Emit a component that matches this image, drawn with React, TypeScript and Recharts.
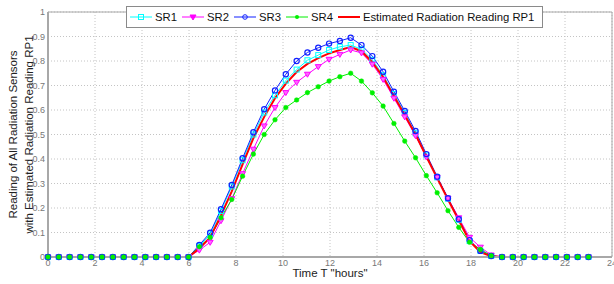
import React from "react";
import { LineChart, Line, XAxis, YAxis, CartesianGrid, ReferenceLine, Label } from "recharts";

const hours = [0, 0.46, 0.92, 1.38, 1.84, 2.3, 2.76, 3.22, 3.68, 4.14, 4.6, 5.06, 5.52, 5.98, 6.44, 6.9, 7.36, 7.82, 8.28, 8.74, 9.2, 9.66, 10.12, 10.58, 11.04, 11.5, 11.96, 12.42, 12.88, 13.34, 13.8, 14.26, 14.72, 15.18, 15.64, 16.1, 16.56, 17.02, 17.48, 17.94, 18.4, 18.86, 19.32, 19.78, 20.24, 20.7, 21.16, 21.62, 22.08, 22.54, 23];

const sr1 = [0, 0, 0, 0, 0, 0, 0, 0, 0, 0, 0, 0, 0, 0,
  0.045, 0.092, 0.188, 0.288, 0.395, 0.5, 0.59, 0.66, 0.72, 0.765, 0.803, 0.824, 0.845, 0.858, 0.865, 0.848, 0.805, 0.742, 0.665, 0.588, 0.505, 0.415, 0.325, 0.238, 0.152, 0.065, 0.025, 0.004,
  0, 0, 0, 0, 0, 0, 0, 0, 0];
const sr2 = [0, 0, 0, 0, 0, 0, 0, 0, 0, 0, 0, 0, 0, 0,
  0.028, 0.06, 0.148, 0.238, 0.34, 0.44, 0.535, 0.61, 0.671, 0.713, 0.746, 0.777, 0.807, 0.827, 0.845, 0.833, 0.787, 0.725, 0.648, 0.572, 0.495, 0.408, 0.325, 0.24, 0.16, 0.08, 0.04, 0.008,
  0, 0, 0, 0, 0, 0, 0, 0, 0];
const sr3 = [0, 0, 0, 0, 0, 0, 0, 0, 0, 0, 0, 0, 0, 0,
  0.049, 0.099, 0.195, 0.294, 0.403, 0.509, 0.603, 0.68, 0.746, 0.8, 0.835, 0.854, 0.871, 0.882, 0.895, 0.865, 0.82, 0.756, 0.675, 0.596, 0.514, 0.42, 0.328, 0.24, 0.154, 0.069, 0.025, 0.004,
  0, 0, 0, 0, 0, 0, 0, 0, 0];
const sr4 = [0, 0, 0, 0, 0, 0, 0, 0, 0, 0, 0, 0, 0, 0,
  0.042, 0.08, 0.16, 0.235, 0.33, 0.42, 0.5, 0.56, 0.61, 0.641, 0.671, 0.695, 0.718, 0.736, 0.75, 0.718, 0.67, 0.616, 0.545, 0.473, 0.405, 0.332, 0.262, 0.189, 0.121, 0.06, 0.031, 0.005,
  0, 0, 0, 0, 0, 0, 0, 0, 0];
const rp1 = [0, 0, 0, 0, 0, 0, 0, 0, 0, 0, 0, 0, 0, 0,
  0.035, 0.08, 0.17, 0.268, 0.378, 0.485, 0.572, 0.648, 0.708, 0.755, 0.788, 0.812, 0.831, 0.845, 0.857, 0.84, 0.795, 0.735, 0.657, 0.58, 0.5, 0.41, 0.322, 0.235, 0.15, 0.065, 0.02, 0.003,
  0, 0, 0, 0, 0, 0, 0, 0, 0];

const xTicks = [0, 2, 4, 6, 8, 10, 12, 14, 16, 18, 20, 22, 24];
const yTicks = [0, 0.1, 0.2, 0.3, 0.4, 0.5, 0.6, 0.7, 0.8, 0.9, 1];

const data = hours.map((h, i) => ({ h, sr1: sr1[i], sr2: sr2[i], sr3: sr3[i], sr4: sr4[i], rp1: rp1[i] }));

const C1 = "#00ffff";
const C2 = "#ff00ff";
const C3 = "#1020ff";
const C4 = "#00f000";
const C5 = "#ff0000";
const FONT = "'Liberation Sans', Arial, sans-serif";

const squareDot = (p: any) => (
  <rect key={"s1" + p.index} x={p.cx - 2.5} y={p.cy - 2.5} width={5} height={5} fill="none" stroke={C1} strokeWidth={1} />
);
const triDot = (p: any) => (
  <path key={"s2" + p.index} d={`M${p.cx - 3},${p.cy - 2} L${p.cx + 3},${p.cy - 2} L${p.cx},${p.cy + 3} Z`} fill="#ff66ff" stroke={C2} strokeWidth={1} />
);
const circDot = (p: any) => (
  <circle key={"s3" + p.index} cx={p.cx} cy={p.cy} r={2.6} fill="none" stroke={C3} strokeWidth={1.2} />
);
const greenDot = (p: any) => (
  <circle key={"s4" + p.index} cx={p.cx} cy={p.cy} r={2.3} fill={C4} stroke={C4} strokeWidth={0.5} />
);

const legendItems = [
  { name: "SR1", color: C1, marker: "square" },
  { name: "SR2", color: C2, marker: "tri" },
  { name: "SR3", color: C3, marker: "circle" },
  { name: "SR4", color: C4, marker: "dot" },
  { name: "Estimated Radiation Reading RP1", color: C5, marker: "none" },
];

const Sample = ({ color, marker }: { color: string; marker: string }) => (
  <svg width={22} height={10} style={{ display: "block" }}>
    <line x1={0} y1={5} x2={22} y2={5} stroke={color} strokeWidth={marker === "none" ? 2 : 1} />
    {marker === "square" && <rect x={8.5} y={2.5} width={5} height={5} fill="none" stroke={color} />}
    {marker === "tri" && <path d="M8,3 L14,3 L11,8 Z" fill={color} stroke={color} />}
    {marker === "circle" && <circle cx={11} cy={5} r={2.3} fill="none" stroke={color} />}
    {marker === "dot" && <circle cx={11} cy={5} r={2} fill={color} />}
  </svg>
);

const LegendBox = () => (
  <div
    style={{
      position: "absolute",
      left: 126,
      top: 6,
      display: "flex",
      alignItems: "center",
      height: 20,
      border: "1px solid #8a8a8a",
      background: "#fff",
      paddingLeft: 3,
      paddingRight: 8,
      fontFamily: FONT,
      fontSize: 11.3,
      color: "#111",
    }}
  >
    {legendItems.map((it, k) => (
      <div key={it.name} style={{ display: "flex", alignItems: "center", marginRight: k === legendItems.length - 1 ? 0 : 5 }}>
        <Sample color={it.color} marker={it.marker} />
        <span style={{ marginLeft: 3, whiteSpace: "nowrap" }}>{it.name}</span>
      </div>
    ))}
  </div>
);

const YLabel = () => (
  <g fontFamily={FONT} fontSize={11.5} fill="#222">
    <text x={17} y={134.5} textAnchor="middle" transform="rotate(-90, 17, 134.5)">
      Reading of All Radiation Sensors
    </text>
    <text x={33} y={134.5} textAnchor="middle" transform="rotate(-90, 33, 134.5)">
      with Estimated Radiation Reading RP1
    </text>
  </g>
);

const XLabel = () => (
  <text x={330} y={277} textAnchor="middle" fontFamily={FONT} fontSize={11.5} fill="#222">
    Time T "hours"
  </text>
);

export default function App() {
  return (
    <div style={{ position: "absolute", left: 0, top: 0, width: 614, height: 284, background: "#fff", overflow: "hidden" }}>
      <LineChart width={614} height={284} data={data} margin={{ top: 12, right: 2, bottom: 0, left: 0 }}>
        <CartesianGrid stroke="#c4c4c4" strokeDasharray="1 2" />
        <XAxis
          dataKey="h"
          type="number"
          domain={[0, 24]}
          ticks={xTicks}
          height={27}
          tickLine={false}
          tickSize={0}
          tickMargin={3}
          axisLine={{ stroke: "#a8a8a8", strokeWidth: 2 }}
          tick={{ fontSize: 9, fill: "#777", fontFamily: FONT }}
          interval={0}
        >
          <Label content={<XLabel />} />
        </XAxis>
        <YAxis
          type="number"
          domain={[0, 1]}
          ticks={yTicks}
          width={48}
          tickLine={false}
          tickSize={0}
          tickMargin={3}
          axisLine={{ stroke: "#a8a8a8", strokeWidth: 2 }}
          tick={{ fontSize: 9, fill: "#777", fontFamily: FONT }}
          interval={0}
        >
          <Label content={<YLabel />} />
        </YAxis>
        <ReferenceLine y={1} stroke="#a8a8a8" strokeWidth={1} />
        <ReferenceLine x={24} stroke="#a8a8a8" strokeWidth={1} />
        <Line dataKey="sr1" stroke={C1} strokeWidth={1} dot={squareDot} isAnimationActive={false} />
        <Line dataKey="sr2" stroke={C2} strokeWidth={1} dot={triDot} isAnimationActive={false} />
        <Line dataKey="sr3" stroke={C3} strokeWidth={1} dot={circDot} isAnimationActive={false} />
        <Line dataKey="sr4" stroke={C4} strokeWidth={1} dot={greenDot} isAnimationActive={false} />
        <Line dataKey="rp1" stroke={C5} strokeWidth={2} dot={false} isAnimationActive={false} />
      </LineChart>
      <LegendBox />
    </div>
  );
}
